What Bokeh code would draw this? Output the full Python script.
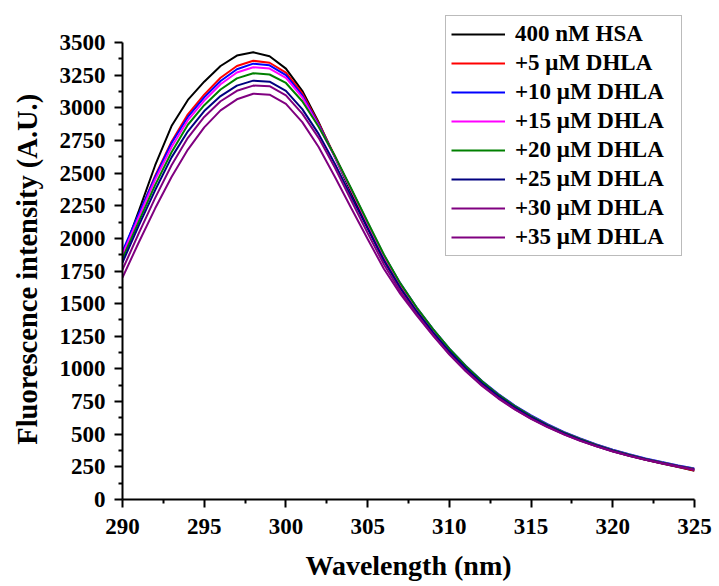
from bokeh.plotting import figure
from bokeh.models import FixedTicker, Legend, LegendItem, Range1d
from bokeh.embed import file_html
from bokeh.resources import INLINE

wavelength = list(range(290, 326))

hsa_400nM = [1870, 2210, 2560, 2860, 3060, 3200, 3320, 3400, 3425, 3395, 3300, 3130,
             2890, 2620, 2350, 2080, 1830, 1620, 1440, 1280, 1130, 1000, 885, 785,
             700, 625, 560, 503, 453, 409, 370, 335, 304, 275, 248, 220]
dhla_5 = [1880, 2180, 2480, 2740, 2950, 3100, 3230, 3320, 3360, 3345, 3270, 3110,
          2880, 2630, 2370, 2110, 1860, 1640, 1460, 1295, 1145, 1012, 895, 795,
          708, 632, 566, 508, 458, 414, 374, 339, 307, 278, 250, 222]
dhla_10 = [1900, 2190, 2470, 2730, 2930, 3080, 3205, 3295, 3338, 3325, 3250, 3095,
           2870, 2625, 2375, 2120, 1870, 1655, 1470, 1305, 1155, 1025, 908, 808,
           720, 644, 577, 518, 467, 422, 382, 347, 315, 287, 261, 238]
dhla_15 = [1875, 2165, 2450, 2700, 2905, 3055, 3180, 3270, 3310, 3300, 3230, 3080,
           2860, 2620, 2370, 2115, 1865, 1650, 1465, 1300, 1150, 1020, 902, 802,
           714, 638, 572, 514, 463, 418, 378, 343, 311, 283, 257, 233]
dhla_20 = [1845, 2130, 2410, 2660, 2870, 3020, 3140, 3225, 3265, 3255, 3190, 3050,
           2855, 2630, 2380, 2125, 1875, 1655, 1470, 1305, 1155, 1022, 905, 803,
           715, 638, 572, 514, 463, 418, 378, 343, 311, 283, 257, 233]
dhla_25 = [1815, 2100, 2370, 2620, 2820, 2975, 3090, 3170, 3208, 3200, 3130, 2990,
           2800, 2570, 2320, 2075, 1830, 1620, 1440, 1280, 1135, 1005, 890, 792,
           705, 630, 565, 508, 458, 413, 374, 339, 308, 280, 254, 230]
dhla_30 = [1760, 2040, 2310, 2560, 2770, 2930, 3050, 3130, 3170, 3165, 3095, 2955,
           2770, 2540, 2290, 2040, 1800, 1595, 1420, 1260, 1115, 988, 875, 778,
           693, 620, 557, 500, 451, 408, 369, 335, 305, 278, 252, 228]
dhla_35 = [1700, 1970, 2230, 2470, 2680, 2850, 2980, 3065, 3108, 3100, 3030, 2890,
           2700, 2470, 2230, 1995, 1765, 1575, 1410, 1255, 1110, 982, 870, 773,
           690, 617, 555, 499, 450, 407, 368, 334, 304, 277, 251, 227]

series = [hsa_400nM, dhla_5, dhla_10, dhla_15, dhla_20, dhla_25, dhla_30, dhla_35]
labels = ["400 nM HSA", "+5 μM DHLA", "+10 μM DHLA", "+15 μM DHLA",
          "+20 μM DHLA", "+25 μM DHLA", "+30 μM DHLA", "+35 μM DHLA"]
colors = ["#000000", "#FF0000", "#0000FF", "#FF00FF",
          "#008000", "#000080", "#800080", "#800080"]

x_major = [290, 295, 300, 305, 310, 315, 320, 325]
x_minor = [292.5, 297.5, 302.5, 307.5, 312.5, 317.5, 322.5]
y_major = list(range(0, 3501, 250))
y_minor = list(range(125, 3500, 250))

FONT = "Liberation Serif"

# frame: 0 at y=499 px, 3500 at y=42 px; extra headroom above 3500 for the legend
px_per_unit = (499 - 42) / 3500.0
top_border = 10
y_end = (499 - top_border) / px_per_unit

p = figure(width=717, height=586, output_backend="svg", toolbar_location=None,
           x_range=Range1d(290, 325), y_range=Range1d(0, y_end),
           min_border_left=122, min_border_right=23, min_border_top=top_border,
           min_border_bottom=87)
p.outline_line_color = None
p.xgrid.visible = False
p.ygrid.visible = False
p.background_fill_color = "white"
p.border_fill_color = "white"

items = []
for ys, lab, col in zip(series, labels, colors):
    r = p.line(wavelength, ys, line_color=col, line_width=2)
    items.append(LegendItem(label=lab, renderers=[r]))

for ax in (p.xaxis[0], p.yaxis[0]):
    ax.axis_line_width = 2
    ax.axis_line_color = "black"
    ax.major_tick_line_width = 2
    ax.minor_tick_line_width = 2
    ax.major_tick_out = 8
    ax.major_tick_in = 0
    ax.minor_tick_out = 4
    ax.minor_tick_in = 0
    ax.major_label_text_font = FONT
    ax.major_label_text_font_style = "bold"
    ax.major_label_text_font_size = "23px"
    ax.major_label_text_color = "black"
    ax.axis_label_text_font = FONT
    ax.axis_label_text_font_style = "bold"
    ax.axis_label_text_color = "black"

p.xaxis[0].axis_label_text_font_size = "28px"
p.yaxis[0].axis_label_text_font_size = "28.5px"
p.xaxis[0].ticker = FixedTicker(ticks=x_major, minor_ticks=x_minor)
p.yaxis[0].ticker = FixedTicker(ticks=y_major, minor_ticks=y_minor)
p.yaxis[0].bounds = (0, 3500)
p.xaxis[0].axis_label = "Wavelength (nm)"
# trailing no-break spaces re-centre the label on the 0-3500 axis (frame extends above it)
p.yaxis[0].axis_label = "Fluorescence intensity (A.U.)" + "\u00a0" * 4
p.xaxis[0].major_label_standoff = 11
p.yaxis[0].major_label_standoff = 9
p.xaxis[0].axis_label_standoff = 13
p.yaxis[0].axis_label_standoff = 14

legend = Legend(items=items, location=(323, 243))
legend.border_line_color = "#777777"
legend.border_line_width = 1.5
legend.background_fill_color = "white"
legend.background_fill_alpha = 1
legend.label_text_font = FONT
legend.label_text_font_style = "bold"
legend.label_text_font_size = "23px"
legend.label_text_color = "black"
legend.glyph_width = 54
legend.glyph_height = 26
legend.label_height = 26
legend.label_width = 161
legend.label_standoff = 10
legend.spacing = 3
legend.padding = 5
legend.margin = 0
p.add_layout(legend)

open("out.html", "w").write(file_html(p, INLINE))
